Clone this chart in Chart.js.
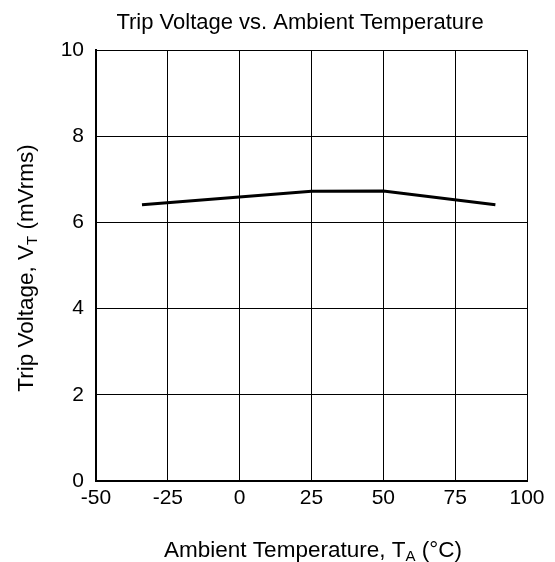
<!DOCTYPE html>
<html>
<head>
<meta charset="utf-8">
<script src="https://cdn.jsdelivr.net/npm/chart.js@4/dist/chart.umd.min.js"></script>
<style>
  html, body { margin: 0; padding: 0; background: #fff; }
  #wrap { width: 555px; height: 562px; position: relative; }
</style>
</head>
<body>
<div id="wrap"><canvas id="tripChart"></canvas></div>
<script>
// values
const temperature = [-34, 25, 50, 89];
const tripVoltage = [6.41, 6.72, 6.73, 6.41];
const xTicks = [-50, -25, 0, 25, 50, 75, 100];
const yTicks = [0, 2, 4, 6, 8, 10];

const FONT = 'Liberation Sans, Arial, sans-serif';

// title + axis titles with subscripts
const titlesPlugin = {
  id: 'titles',
  afterDraw(chart) {
    const ctx = chart.ctx;
    ctx.save();
    ctx.fillStyle = '#000';
    ctx.textBaseline = 'alphabetic';

    ctx.font = '22px ' + FONT;
    ctx.textAlign = 'center';
    ctx.fillText('Trip Voltage vs. Ambient Temperature', 300, 29);

    const drawSub = (parts, cx, cy) => {
      let total = 0;
      parts.forEach(p => {
        ctx.font = p.size + 'px ' + FONT;
        p.w = ctx.measureText(p.t).width;
        total += p.w;
      });
      let x = cx - total / 2;
      ctx.textAlign = 'left';
      parts.forEach(p => {
        ctx.font = p.size + 'px ' + FONT;
        ctx.fillText(p.t, x, cy + (p.sub ? 4 : 0));
        x += p.w;
      });
    };

    // x axis title
    drawSub([
      { t: 'Ambient Temperature, T', size: 22.5 },
      { t: 'A', size: 15, sub: true },
      { t: ' (°C)', size: 22.5 }
    ], 313, 557);

    // y axis title
    ctx.translate(33, 268);
    ctx.rotate(-Math.PI / 2);
    drawSub([
      { t: 'Trip Voltage, V', size: 22.5 },
      { t: 'T', size: 15, sub: true },
      { t: ' (mVrms)', size: 22.5 }
    ], 0, 0);
    ctx.restore();
  }
};

new Chart(document.getElementById('tripChart'), {
  type: 'line',
  data: {
    datasets: [{
      data: temperature.map((t, i) => ({ x: t, y: tripVoltage[i] })),
      borderColor: '#000',
      borderWidth: 3,
      pointRadius: 0,
      tension: 0,
      fill: false
    }]
  },
  options: {
    responsive: true,
    maintainAspectRatio: false,
    animation: false,
    layout: { padding: { left: 0, top: 50, right: 28, bottom: 0 } },
    plugins: {
      legend: { display: false },
      tooltip: { enabled: false }
    },
    scales: {
      x: {
        type: 'linear',
        min: -50,
        max: 100,
        afterBuildTicks(axis) { axis.ticks = xTicks.map(v => ({ value: v })); },
        afterFit(axis) { axis.height = 81; },
        grid: { color: '#000', lineWidth: 1, tickLength: 0 },
        border: { color: '#000', width: 2 },
        ticks: { color: '#000', font: { family: FONT, size: 21 }, padding: 5, maxRotation: 0 }
      },
      y: {
        min: 0,
        max: 10,
        afterBuildTicks(axis) { axis.ticks = yTicks.map(v => ({ value: v })); },
        afterFit(axis) { axis.width = 96; },
        grid: { color: '#000', lineWidth: 1, tickLength: 0 },
        border: { color: '#000', width: 2 },
        ticks: { color: '#000', font: { family: FONT, size: 21 }, padding: 12 }
      }
    }
  },
  plugins: [titlesPlugin]
});
</script>
</body>
</html>
